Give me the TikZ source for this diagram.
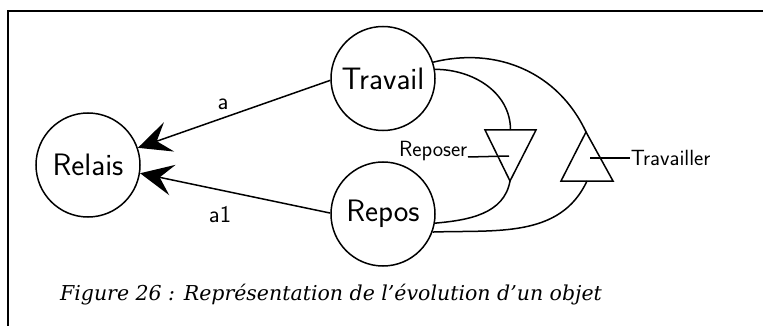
\documentclass[tikz,border=0pt]{standalone}
\usepackage{fontspec}
\newfontfamily\capfont{DejaVu Serif}
\usetikzlibrary{arrows.meta}
\begin{document}
\begin{tikzpicture}[x=1pt,y=1pt,
  every path/.style={line width=1.5pt},
  state/.style={circle, draw, line width=1.5pt, minimum size=104pt, inner sep=0pt,
    font=\sffamily\fontsize{31}{34}\selectfont},
  small/.style={inner sep=0pt, font=\sffamily\fontsize{22}{24}\selectfont},
  edgelbl/.style={inner sep=0pt, font=\sffamily\fontsize{24}{26}\selectfont},
  arc/.style={line width=1.5pt},
  big/.style={-{Stealth[length=33pt,width=31pt,inset=13pt]}, line width=1.5pt},
  tri/.style={line width=1.5pt, line join=miter}]
\useasboundingbox (0,0) rectangle (763,-326);
% frame
\draw[line width=1.6pt] (8,-326) -- (8,-11) -- (763,-11);
% states
\node[state] (relais) at (88,-165) {Relais};
\node[state] (travail) at (383,-78.5) {Travail};
\node[state] (repos) at (383,-214) {Repos};
% triangles
\coordinate (r1) at (485,-130);
\coordinate (r2) at (536,-130);
\coordinate (rapex) at (510,-181);
\coordinate (rtop) at (510.5,-130);
\coordinate (rin) at (509,-156);
\draw[tri] (r1) -- (r2) -- (rapex) -- cycle;
\coordinate (t1) at (561,-181);
\coordinate (t2) at (613,-181);
\coordinate (tapex) at (586,-132);
\coordinate (tbase) at (587,-181);
\coordinate (tin) at (590,-158);
\draw[tri] (t1) -- (t2) -- (tapex) -- cycle;
% arrows to Relais
\draw[big] (travail.182) -- (relais.19);
\draw[big] (repos.179) -- (relais.-9);
\node[edgelbl] (la) at (223,-104) {a};
\node[edgelbl] (la1) at (220,-215) {a1};
% arcs
\draw[arc] (travail.10) to[out=0,in=90] (rtop);
\draw[arc] (travail.18) to[out=14,in=115] (tapex);
\draw[arc] (rapex) to[out=-100,in=5] (repos.-10);
\draw[arc] (tbase) to[out=-115,in=2] (repos.-20);
% labels
\node[small, anchor=base east] (lrep) at (468,-157) {Reposer};
\draw (lrep.base east) -- (rin);
\node[small, anchor=west] (ltrav) at (630,-158) {Travailler};
\draw (tin) -- (ltrav.west);
% caption
\node[anchor=base, inner sep=0pt, font=\capfont\itshape\fontsize{20.5}{24}\selectfont] (cap) at (331,-300)
  {Figure 26 : Représentation de l’évolution d’un objet};
\end{tikzpicture}
\end{document}
